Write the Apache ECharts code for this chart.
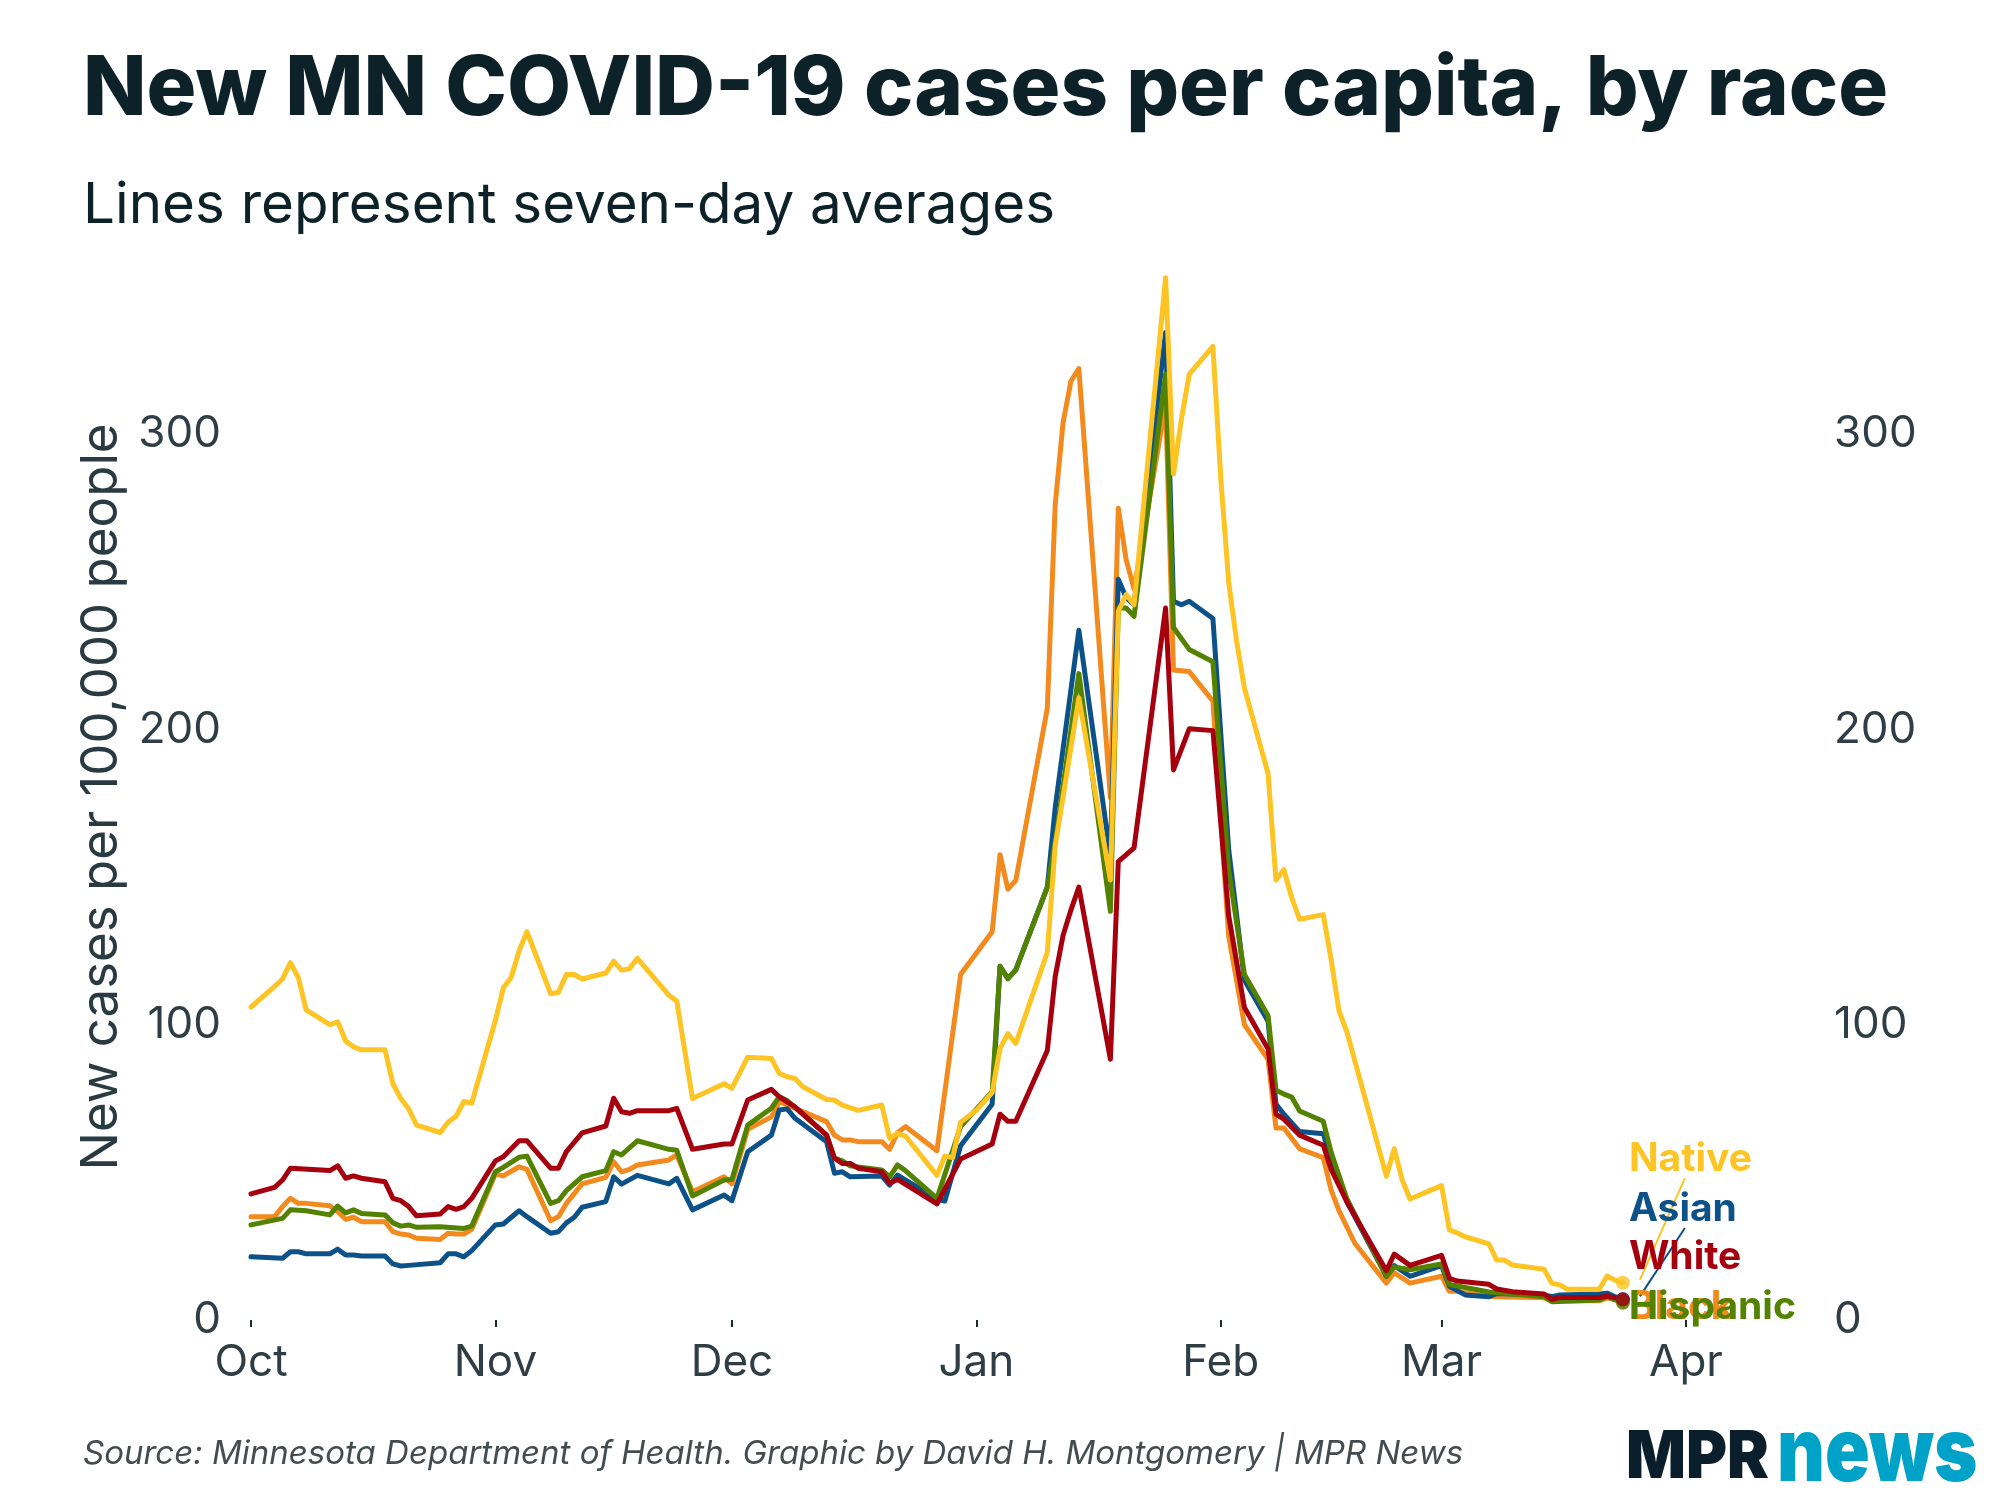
<!DOCTYPE html>
<html><head><meta charset="utf-8">
<script src="https://cdn.jsdelivr.net/npm/echarts@6/dist/echarts.min.js"></script>
<style>html,body{margin:0;padding:0;background:#fff}#c{width:2000px;height:1500px}</style>
</head><body><div id="c"></div>
<script>
// ---- DATA (seven-day averages, new cases per 100,000) ----
const native = [
['2021-10-01',106],['2021-10-04',113],['2021-10-05',115.5],['2021-10-06',121],['2021-10-07',116],['2021-10-08',105],
['2021-10-11',100],['2021-10-12',101],['2021-10-13',94.5],['2021-10-14',92.5],['2021-10-15',91.5],['2021-10-18',91.5],
['2021-10-19',80],['2021-10-20',75],['2021-10-21',71.5],['2021-10-22',66],['2021-10-25',63.5],['2021-10-26',67],
['2021-10-27',69],['2021-10-28',74],['2021-10-29',73.5],['2021-11-01',101.5],['2021-11-02',112.5],['2021-11-03',116],
['2021-11-04',125],['2021-11-05',131.5],['2021-11-08',110.5],['2021-11-09',111],['2021-11-10',117],['2021-11-11',117],
['2021-11-12',115.5],['2021-11-15',117.5],['2021-11-16',121.5],['2021-11-17',118.5],['2021-11-18',119],['2021-11-19',122.5],
['2021-11-23',110],['2021-11-24',108],['2021-11-26',75],['2021-11-30',80],['2021-12-01',78.5],['2021-12-03',89],
['2021-12-06',88.6],['2021-12-07',83.5],['2021-12-08',82.4],['2021-12-09',81.8],['2021-12-10',79],['2021-12-13',74.7],
['2021-12-14',74.5],['2021-12-15',72.8],['2021-12-17',71],['2021-12-20',72.8],['2021-12-21',61.5],['2021-12-22',63.2],
['2021-12-23',62.3],['2021-12-27',49],['2021-12-28',55.5],['2021-12-29',55],['2021-12-30',67],['2022-01-01',71],
['2022-01-03',77],['2022-01-04',92],['2022-01-05',97],['2022-01-06',93.7],['2022-01-10',124.5],['2022-01-11',160.6],
['2022-01-14',210.7],['2022-01-18',149],['2022-01-19',240],['2022-01-20',245.7],['2022-01-21',242.2],['2022-01-25',353],
['2022-01-26',286.5],['2022-01-27',305],['2022-01-28',320.3],['2022-01-31',329.7],['2022-02-01',285],['2022-02-02',250],
['2022-02-03',230],['2022-02-04',214],['2022-02-07',185],['2022-02-08',149],['2022-02-09',152.5],['2022-02-10',143],
['2022-02-11',135.7],['2022-02-14',137.3],['2022-02-15',122],['2022-02-16',104.6],['2022-02-17',97.6],['2022-02-22',48.7],
['2022-02-23',58],['2022-02-24',47.5],['2022-02-25',41],['2022-03-01',45.5],['2022-03-02',30.5],['2022-03-03',29.5],
['2022-03-04',28.2],['2022-03-07',25.8],['2022-03-08',20.3],['2022-03-09',20.3],['2022-03-10',18.6],['2022-03-14',17.2],
['2022-03-15',12.4],['2022-03-16',11.9],['2022-03-17',10.4],['2022-03-21',10.4],['2022-03-22',14.9],['2022-03-23',13.5],
['2022-03-24',12.6]
];
const asian = [
['2021-10-01',21.4],['2021-10-05',20.9],['2021-10-06',23.1],['2021-10-07',23.1],['2021-10-08',22.4],['2021-10-11',22.4],
['2021-10-12',24],['2021-10-13',22],['2021-10-14',22],['2021-10-15',21.7],['2021-10-18',21.7],['2021-10-19',19],
['2021-10-20',18.3],['2021-10-21',18.5],['2021-10-25',19.4],['2021-10-26',22.4],['2021-10-27',22.4],['2021-10-28',21.4],
['2021-10-29',23.5],['2021-11-01',32.2],['2021-11-02',32.5],['2021-11-04',37],['2021-11-05',35],['2021-11-08',29.4],
['2021-11-09',29.9],['2021-11-10',32.9],['2021-11-11',34.8],['2021-11-12',38.2],['2021-11-15',40.1],['2021-11-16',48.5],
['2021-11-17',46],['2021-11-19',49],['2021-11-23',46.1],['2021-11-24',48],['2021-11-26',37.3],['2021-11-30',42.3],
['2021-12-01',40.4],['2021-12-03',57],['2021-12-06',62.6],['2021-12-07',71.1],['2021-12-08',71.5],['2021-12-09',68.3],
['2021-12-13',60.4],['2021-12-14',49.7],['2021-12-15',50.2],['2021-12-16',48.5],['2021-12-20',48.8],['2021-12-21',45.7],
['2021-12-22',49.1],['2021-12-27',40.9],['2021-12-28',40.3],['2021-12-30',59],['2022-01-03',73.1],['2022-01-04',119.8],
['2022-01-05',115.6],['2022-01-06',118.6],['2022-01-10',146.6],['2022-01-11',173.5],['2022-01-14',233.6],['2022-01-18',157.1],
['2022-01-19',250.9],['2022-01-20',244.6],['2022-01-21',242.2],['2022-01-25',334.4],['2022-01-26',243.4],['2022-01-27',242.2],
['2022-01-28',243.4],['2022-01-31',237.6],['2022-02-02',159.4],['2022-02-04',115.1],['2022-02-07',101.2],['2022-02-08',73.1],
['2022-02-09',69.7],['2022-02-11',63.8],['2022-02-14',63.1],['2022-02-15',54.5],['2022-02-17',40],['2022-02-22',14.8],
['2022-02-23',18.4],['2022-02-25',14.8],['2022-03-01',18.4],['2022-03-02',11.4],['2022-03-04',8.5],['2022-03-07',7.9],
['2022-03-08',9],['2022-03-14',8.5],['2022-03-15',7.9],['2022-03-16',8.5],['2022-03-21',8.8],['2022-03-22',9.1],
['2022-03-23',7.9],['2022-03-24',7]
];
const white = [
['2021-10-01',42.7],['2021-10-04',44.9],['2021-10-05',47.4],['2021-10-06',51.4],['2021-10-11',50.6],['2021-10-12',52.2],
['2021-10-13',48],['2021-10-14',48.8],['2021-10-15',48],['2021-10-18',46.8],['2021-10-19',41.2],['2021-10-20',40.4],
['2021-10-21',38.4],['2021-10-22',35.3],['2021-10-25',35.9],['2021-10-26',38.4],['2021-10-27',37.5],['2021-10-28',38.4],
['2021-10-29',41.2],['2021-11-01',53.9],['2021-11-02',55.3],['2021-11-04',60.7],['2021-11-05',60.7],['2021-11-08',51.4],
['2021-11-09',51.4],['2021-11-10',57],['2021-11-12',63.4],['2021-11-15',65.7],['2021-11-16',75.1],['2021-11-17',70.5],
['2021-11-18',70],['2021-11-19',70.9],['2021-11-23',70.9],['2021-11-24',71.7],['2021-11-26',57.8],['2021-11-30',59.6],
['2021-12-01',59.6],['2021-12-03',74.5],['2021-12-06',78.1],['2021-12-07',75.6],['2021-12-09',72.2],['2021-12-13',62.6],
['2021-12-14',54.8],['2021-12-15',53],['2021-12-16',53],['2021-12-17',51.4],['2021-12-20',50.2],['2021-12-21',46.3],
['2021-12-22',47.6],['2021-12-27',39.3],['2021-12-30',54.5],['2022-01-03',59.6],['2022-01-04',69.7],['2022-01-05',67.3],
['2022-01-06',67.3],['2022-01-10',91.3],['2022-01-11',116.3],['2022-01-12',130.3],['2022-01-13',138.9],['2022-01-14',146.6],
['2022-01-18',88.3],['2022-01-19',155.2],['2022-01-21',159.9],['2022-01-25',241.1],['2022-01-26',186.3],['2022-01-28',200.2],
['2022-01-31',199.6],['2022-02-02',137],['2022-02-04',105.8],['2022-02-07',91.8],['2022-02-08',69.7],['2022-02-09',68],
['2022-02-11',62.6],['2022-02-14',59.2],['2022-02-15',51],['2022-02-17',40],['2022-02-22',16.7],['2022-02-23',22.3],
['2022-02-25',18.5],['2022-03-01',21.9],['2022-03-02',14.1],['2022-03-03',13.2],['2022-03-07',12.1],['2022-03-08',10.5],
['2022-03-10',9.6],['2022-03-14',8.8],['2022-03-15',7],['2022-03-16',7.6],['2022-03-21',7.6],['2022-03-22',8.1],
['2022-03-24',7]
];
const black = [
['2021-10-01',35],['2021-10-04',35],['2021-10-05',38.4],['2021-10-06',41.2],['2021-10-07',39.5],['2021-10-08',39.5],
['2021-10-11',38.7],['2021-10-12',36.7],['2021-10-13',34.1],['2021-10-14',34.8],['2021-10-15',33.3],['2021-10-18',33.3],
['2021-10-19',29.9],['2021-10-20',29.1],['2021-10-21',28.8],['2021-10-22',27.7],['2021-10-25',27.3],['2021-10-26',29.4],
['2021-10-27',29.1],['2021-10-28',29.1],['2021-10-29',30.7],['2021-11-01',49.4],['2021-11-02',48.8],['2021-11-04',51.9],
['2021-11-05',51],['2021-11-08',33.6],['2021-11-09',35],['2021-11-10',39.5],['2021-11-12',46.1],['2021-11-15',48.3],
['2021-11-16',53.6],['2021-11-17',50.2],['2021-11-18',51],['2021-11-19',52.5],['2021-11-23',54.2],['2021-11-24',55.9],
['2021-11-26',43.4],['2021-11-30',48.5],['2021-12-01',46.1],['2021-12-03',64.6],['2021-12-06',68.8],['2021-12-07',73.9],
['2021-12-09',71.7],['2021-12-13',67.2],['2021-12-14',62.6],['2021-12-15',61],['2021-12-16',61],['2021-12-17',60.4],
['2021-12-20',60.4],['2021-12-21',57.8],['2021-12-22',63.4],['2021-12-23',65.5],['2021-12-27',57.3],['2021-12-30',117],
['2022-01-03',131.5],['2022-01-04',157.6],['2022-01-05',145.9],['2022-01-06',148.9],['2022-01-10',207.2],['2022-01-11',276.1],
['2022-01-12',304],['2022-01-13',318],['2022-01-14',322.2],['2022-01-18',176.9],['2022-01-19',274.9],['2022-01-20',257.4],
['2022-01-21',247.6],['2022-01-25',310],['2022-01-26',220.1],['2022-01-28',219.6],['2022-01-31',209.6],['2022-02-02',130],
['2022-02-04',100],['2022-02-07',88.3],['2022-02-08',65],['2022-02-09',65],['2022-02-11',58],['2022-02-14',55],
['2022-02-15',44],['2022-02-16',37],['2022-02-18',26],['2022-02-22',12.5],['2022-02-23',16],['2022-02-25',12.5],
['2022-03-01',14.8],['2022-03-02',9.7],['2022-03-03',9.7],['2022-03-07',8],['2022-03-14',7.5],['2022-03-15',6.5],
['2022-03-21',6.5],['2022-03-22',7.5],['2022-03-24',6.3]
];
const hispanic = [
['2021-10-01',32.2],['2021-10-05',34.4],['2021-10-06',37.3],['2021-10-08',37],['2021-10-11',35.6],['2021-10-12',38.6],
['2021-10-13',36.3],['2021-10-14',37.3],['2021-10-15',36.1],['2021-10-18',35.6],['2021-10-19',32.9],['2021-10-20',31.8],
['2021-10-21',32.2],['2021-10-22',31.4],['2021-10-25',31.6],['2021-10-28',31],['2021-10-29',31.8],['2021-11-01',50.2],
['2021-11-02',51.7],['2021-11-04',55.1],['2021-11-05',55.5],['2021-11-08',39.5],['2021-11-09',40.4],['2021-11-10',43.8],
['2021-11-12',48.5],['2021-11-15',50.6],['2021-11-16',57],['2021-11-17',55.9],['2021-11-19',60.7],['2021-11-23',57.8],
['2021-11-24',57.5],['2021-11-26',42],['2021-11-30',47.4],['2021-12-01',47.6],['2021-12-03',66],['2021-12-06',71.7],
['2021-12-07',75.6],['2021-12-08',74.3],['2021-12-13',62.6],['2021-12-14',54.8],['2021-12-15',53.9],['2021-12-16',52.2],
['2021-12-20',50.8],['2021-12-21',48.5],['2021-12-22',52.5],['2021-12-23',50.6],['2021-12-27',41.2],['2021-12-30',65.5],
['2022-01-03',77.3],['2022-01-04',119.8],['2022-01-05',115.6],['2022-01-06',118.6],['2022-01-10',146.6],['2022-01-11',161.8],
['2022-01-14',218.9],['2022-01-18',138.4],['2022-01-19',241.1],['2022-01-20',241.1],['2022-01-21',238.3],['2022-01-25',320.3],
['2022-01-26',234.5],['2022-01-28',227.1],['2022-01-31',222.9],['2022-02-02',152.4],['2022-02-04',117],['2022-02-07',103],
['2022-02-08',77.8],['2022-02-09',76.5],['2022-02-10',75.5],['2022-02-11',70.8],['2022-02-14',67.3],['2022-02-15',56.8],
['2022-02-17',41],['2022-02-22',14.8],['2022-02-23',18],['2022-02-25',17],['2022-03-01',19],['2022-03-02',12],
['2022-03-07',9.5],['2022-03-14',7.9],['2022-03-15',6.2],['2022-03-21',6.8],['2022-03-22',7.9],['2022-03-24',5.8]
];

const drawOrder = ['Black', 'Asian', 'Hispanic', 'Native', 'White'];
const labelOrder = ['Native', 'Asian', 'White', 'Black', 'Hispanic'];
const labelValues = [54.5, 37.6, 21.3, 4.4, 4.4];   // vertical placement of end labels (value units)
const labelLeaders = [true, true, false, false, false];
const yTicks = [0, 100, 200, 300];
const monthNames = ['Jan','Feb','Mar','Apr','May','Jun','Jul','Aug','Sep','Oct','Nov','Dec'];

const titleText = 'New MN COVID-19 cases per capita, by race';
const subtitleText = 'Lines represent seven-day averages';
const yAxisTitle = 'New cases per 100,000 people';
const sourceText = 'Source: Minnesota Department of Health. Graphic by David H. Montgomery | MPR News';

const dataBy = { Native: native, Asian: asian, White: white, Black: black, Hispanic: hispanic };
const colors = { Native: '#fec423', Asian: '#0c5289', White: '#a6000e', Black: '#f38a1e', Hispanic: '#538200' };

const FONT = 'Inter, "Noto Sans", sans-serif';
const toTime = s => new Date(s + 'T00:00:00').getTime();

const chart = echarts.init(document.getElementById('c'), null, { renderer: 'canvas', width: 2000, height: 1500 });

const yLabelFmt = v => (yTicks.indexOf(v) >= 0 ? String(v) : '');

const series = drawOrder.map(name => ({
  name, type: 'line', data: dataBy[name].map(p => [toTime(p[0]), p[1]]),
  showSymbol: false, symbol: 'none', smooth: false,
  lineStyle: { color: colors[name], width: 5, join: 'round', cap: 'round' },
  itemStyle: { color: colors[name] },
  emphasis: { disabled: true }, z: 2
}));
series.push({
  type: 'scatter', z: 5, symbolSize: 14,
  data: drawOrder.map(name => {
    const d = dataBy[name]; const last = d[d.length - 1];
    return { value: [toTime(last[0]), last[1]], itemStyle: { color: colors[name] } };
  })
});

chart.setOption({
  animation: false,
  backgroundColor: '#ffffff',
  grid: { left: 251, right: 180, top: 257, bottom: 180, containLabel: false, outerBoundsMode: 'none' },
  xAxis: {
    type: 'time', min: toTime('2021-10-01'), max: toTime('2022-04-18'), offset: 12, splitNumber: 7,
    axisLine: { show: false },
    axisTick: { show: true, length: 7, lineStyle: { color: '#1e2a30', width: 2 } },
    splitLine: { show: false }, minorTick: { show: false },
    axisLabel: { fontFamily: FONT, fontSize: 44, color: '#2f3d45', margin: 9,
      formatter: v => monthNames[new Date(v).getMonth()], hideOverlap: false }
  },
  yAxis: [
    { type: 'value', min: 0, max: 360, interval: 100, position: 'left',
      axisLine: { show: false }, axisTick: { show: false }, splitLine: { show: false },
      axisLabel: { fontFamily: FONT, fontSize: 44, color: '#2f3d45', margin: 30, formatter: yLabelFmt, showMaxLabel: false } },
    { type: 'value', min: 0, max: 360, interval: 100, position: 'right',
      axisLine: { show: false }, axisTick: { show: false }, splitLine: { show: false },
      axisLabel: { fontFamily: FONT, fontSize: 44, color: '#2f3d45', margin: 14, formatter: yLabelFmt, showMaxLabel: false } }
  ],
  series
});

// ---- annotations (titles, labels, logo) ----
const gfx = [
  { type: 'text', x: 83, y: 90, style: { text: titleText, fill: '#0d2129', font: '800 83px ' + FONT, textAlign: 'left', textVerticalAlign: 'middle', align: 'left', verticalAlign: 'middle' } },
  { type: 'text', x: 83, y: 206, style: { text: subtitleText, fill: '#0d2129', font: '400 56.5px ' + FONT, textAlign: 'left', textVerticalAlign: 'middle', align: 'left', verticalAlign: 'middle' } },
  { type: 'text', x: 102, y: 797, rotation: Math.PI / 2, style: { text: yAxisTitle, fill: '#2a3a42', font: '400 51px ' + FONT, textAlign: 'center', textVerticalAlign: 'middle', align: 'center', verticalAlign: 'middle' } },
  { type: 'text', x: 83, y: 1454, style: { text: sourceText, fill: '#454c50', font: 'italic 400 33px ' + FONT, textAlign: 'left', textVerticalAlign: 'middle', align: 'left', verticalAlign: 'middle' } },
  { type: 'text', x: 1626, y: 1458, scaleX: 0.95, style: { text: 'MPR', fill: '#0a1f2b', font: '900 66px ' + FONT, textAlign: 'left', textVerticalAlign: 'middle', align: 'left', verticalAlign: 'middle' } },
  { type: 'text', x: 1777, y: 1455, scaleX: 0.84, style: { text: 'news', fill: '#00a2c8', font: '900 88px ' + FONT, textAlign: 'left', textVerticalAlign: 'middle', align: 'left', verticalAlign: 'middle' } }
];
labelOrder.forEach((name, i) => {
  const d = dataBy[name]; const last = d[d.length - 1];
  const pEnd = chart.convertToPixel({ gridIndex: 0 }, [toTime(last[0]), last[1]]);
  const pLab = chart.convertToPixel({ gridIndex: 0 }, [toTime(last[0]), labelValues[i]]);
  const lx = pEnd[0] + 6, ly = pLab[1];
  if (labelLeaders[i]) {
    gfx.push({ type: 'line', z: 90, shape: { x1: lx + 56, y1: ly + 19, x2: pEnd[0] + 17, y2: pEnd[1] - 3 }, style: { stroke: colors[name], lineWidth: 2 } });
  }
  gfx.push({ type: 'text', z: 100, x: lx, y: ly, style: { text: name, fill: colors[name], font: '700 39px ' + FONT, textAlign: 'left', textVerticalAlign: 'middle', align: 'left', verticalAlign: 'middle' } });
});
chart.setOption({ graphic: gfx });
</script>
</body></html>
